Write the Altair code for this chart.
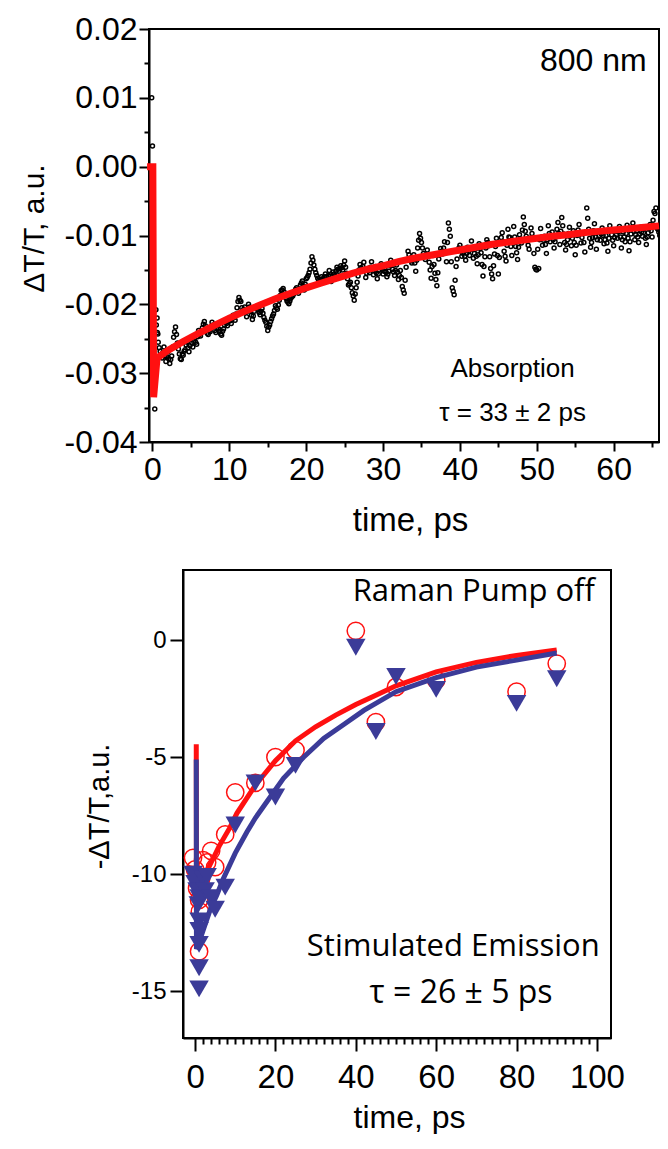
import altair as alt
import pandas as pd

RED = "#ff1010"
BLUE = "#3b3b98"
FONT = "Liberation Sans"
FONT2 = "Open Sans"
MINUS_FIX = "replace(datum.label, '\u2212', '-')"

# whole figure is one layered view; each panel has its own pixel-ranged scales
W, H = 652, 1126

# ---------------- top panel: 800 nm absorption ----------------
# transient points (units of 1e-3), two interleaved sample sets
abs_vals_a = [  # t = 0.5, 0.75, 1.0, ...
    -23.0, -25.5, -26.8, -27.8, -26.2, -28.3, -26.9, -28.6,
    -27.5, -24.8, -23.3, -25.6, -27.2, -28.0, -27.4, -26.6,
    -25.5, -26.9, -25.0, -26.2, -24.9, -25.8, -23.8, -24.6,
    -23.4, -22.5, -23.7, -24.4, -24.0, -22.6, -23.2, -24.1,
    -23.0, -23.9, -24.5, -23.6, -22.4, -23.1, -22.0, -22.8,
    -21.6, -22.3, -20.5, -19.0, -19.6, -21.2, -20.4, -21.8,
    -20.0, -20.9, -22.2, -21.0, -20.3, -20.8, -21.5, -20.6,
    -21.9, -22.6, -23.8, -23.0, -22.1, -21.4, -20.2, -20.7,
    -19.4, -18.0, -17.7, -18.6, -19.5, -19.9, -19.1, -18.8,
    -18.1, -17.6, -18.4, -17.2, -16.6, -17.9, -16.3, -15.8,
    -14.9, -13.1, -14.3, -15.4, -16.2, -16.9, -16.0, -16.5,
    -15.6, -16.4, -15.1, -16.7, -15.3, -15.9, -14.6, -15.2,
    -14.4, -15.0, -13.7, -15.5, -17.2, -16.8, -18.3, -19.4,
    -17.6, -15.9, -14.2, -15.1, -13.9, -16.1, -14.8, -15.4,
    -13.8, -15.7, -14.5, -16.3, -15.0, -14.1, -15.6, -14.7,
    -16.0, -15.2, -13.6, -14.9, -15.8, -14.3, -16.4, -15.1,
    -17.4, -18.4, -14.6, -12.3, -13.3, -14.0, -12.8, -15.2,
    -11.8, -9.7, -11.0, -12.6, -13.5, -12.1, -13.9, -16.2,
    -12.9, -15.5, -17.3, -13.4, -11.9, -12.7, -10.9, -13.8,
    -8.2, -10.1, -17.6, -18.6, -14.5, -12.2, -11.4, -13.0,
    -12.4, -13.6, -11.7, -12.9, -10.8, -13.3, -12.0, -14.1,
    -11.2, -12.5, -15.9, -13.1, -10.6, -11.5, -14.8, -16.3,
    -12.7, -10.4, -15.6, -11.0, -9.6, -12.3, -13.7, -9.1,
    -10.3, -12.9, -8.7, -11.6, -13.5, -9.9, -11.1, -7.3,
    -9.4, -10.8, -12.0, -8.9, -10.5, -14.6, -15.0, -14.8,
    -9.0, -11.4, -10.1, -12.6, -8.6, -10.9, -9.5, -11.8,
    -10.2, -8.1, -11.3, -7.4, -9.8, -12.1, -10.6, -8.8,
    -11.5, -9.3, -12.8, -10.0, -8.4, -11.1, -9.6, -12.4,
    -6.0, -9.1, -11.7, -10.3, -8.3, -12.0, -9.4, -10.7,
    -8.9, -11.2, -10.0, -12.3, -8.6, -9.9, -11.5, -9.2,
    -10.4, -8.7, -11.8, -9.5, -10.9, -8.5, -12.2, -9.8,
    -8.2, -10.6, -9.3, -11.0, -8.8, -10.1, -9.0, -11.3,
    -9.6, -8.4, -10.2, -6.5, -6.0, -9.1, -10.0,
]
abs_vals_b = [  # t = 0.625, 0.875, 1.125, ...
    -24.1, -26.3, -27.4, -27.0, -27.5, -27.6, -27.9, -28.0,
    -26.2, -24.0, -24.4, -26.5, -27.9, -27.2, -26.8, -25.9,
    -26.3, -26.0, -25.6, -25.4, -25.5, -24.7, -24.4, -23.9,
    -22.9, -23.1, -24.2, -23.8, -23.3, -23.0, -23.8, -23.5,
    -23.6, -24.3, -23.9, -23.0, -22.8, -22.5, -22.4, -22.1,
    -21.9, -21.4, -19.6, -19.4, -20.5, -20.7, -21.1, -21.0,
    -20.4, -21.6, -21.7, -20.6, -20.5, -21.2, -21.0, -21.3,
    -22.3, -23.2, -23.3, -22.5, -21.7, -20.9, -20.5, -20.1,
    -18.7, -17.9, -18.2, -19.1, -19.7, -19.5, -18.9, -18.5,
    -17.8, -18.0, -17.8, -16.9, -17.3, -17.1, -16.1, -15.4,
    -14.0, -13.6, -14.9, -15.8, -16.5, -16.4, -16.3, -16.0,
    -16.0, -15.8, -15.9, -16.0, -15.6, -15.2, -14.9, -14.8,
    -14.7, -14.3, -14.6, -16.3, -17.0, -17.6, -18.8, -18.5,
    -16.8, -15.0, -14.7, -14.5, -15.0, -15.5, -15.1, -14.6,
    -14.8, -15.1, -15.4, -15.6, -14.5, -14.9, -15.2, -15.3,
    -15.6, -14.4, -14.2, -15.3, -15.1, -15.3, -15.8, -16.1,
    -17.9, -16.5, -13.5, -12.8, -13.7, -13.4, -14.0, -13.6,
    -10.7, -10.4, -11.8, -13.1, -12.8, -13.0, -15.0, -14.5,
    -14.2, -16.4, -15.4, -12.6, -12.3, -11.8, -12.4, -11.0,
    -9.1, -13.8, -18.1, -16.5, -13.4, -11.8, -12.2, -12.6,
    -13.0, -12.6, -12.3, -11.9, -12.0, -12.6, -13.0, -12.8,
    -11.9, -14.2, -14.5, -11.8, -11.0, -13.1, -15.6, -14.4,
    -11.6, -12.9, -13.2, -10.3, -10.9, -13.0, -11.4, -10.2,
    -11.6, -10.8, -10.2, -12.5, -11.7, -10.5, -9.2, -8.4,
    -10.1, -11.4, -10.4, -9.7, -12.6, -14.9, -12.0, -10.6,
    -10.2, -10.7, -11.3, -10.6, -9.7, -10.2, -10.6, -10.9,
    -9.1, -9.7, -9.4, -8.6, -11.0, -11.3, -9.7, -10.0,
    -10.4, -11.0, -11.4, -9.2, -9.7, -10.3, -11.0, -9.5,
    -7.5, -10.4, -11.0, -9.3, -10.2, -10.6, -10.0, -9.8,
    -10.0, -10.6, -11.1, -10.4, -9.2, -10.7, -10.3, -9.9,
    -9.5, -10.2, -10.6, -10.2, -9.7, -10.4, -10.9, -9.0,
    -9.4, -9.9, -10.2, -9.8, -9.5, -9.6, -10.4, -10.2,
    -9.0, -9.3, -7.8, -6.8, -8.9, -9.5,
]
abs_t_a = [round(0.5 + 0.25 * i, 3) for i in range(len(abs_vals_a))]
abs_t_b = [round(0.625 + 0.25 * i, 3) for i in range(len(abs_vals_b))]
early_t = [-0.1, 0.0, 0.3, 0.45, 0.6, 0.7]
early_v = [10.0, 3.0, -35.2, -20.8, -22.0, -24.3]

fit_top_t = [-0.7, 0.05, 0.15, 0.6, 2, 4, 6, 8, 10, 12, 14, 16, 18, 20, 22, 24, 26,
             28, 30, 32, 34, 36, 38, 40, 42, 44, 46, 48, 50, 52, 54, 56, 58, 60,
             62, 64, 65.9]
fit_top_v = [0.0, 0.0, -33.5, -27.8, -26.7, -25.4, -24.2, -23.1, -22.0, -21.0, -20.1,
             -19.2, -18.4, -17.6, -16.9, -16.2, -15.5, -14.9, -14.4, -13.8, -13.3,
             -12.9, -12.5, -12.1, -11.7, -11.3, -11.0, -10.7, -10.4, -10.1, -9.9,
             -9.6, -9.4, -9.2, -9.0, -8.8, -8.6]

top_x_ticks = [0, 10, 20, 30, 40, 50, 60]
top_x_minor = [5, 15, 25, 35, 45, 55, 65]
top_y_ticks = [0.02, 0.01, 0.0, -0.01, -0.02, -0.03, -0.04]
top_y_minor = [0.015, 0.005, -0.005, -0.015, -0.025, -0.035]
top_x_dom = [-0.45, 65.9]
top_y_dom = [-0.04, 0.02]

# ---------------- bottom panel: stimulated emission ----------------
off_t = [-0.5, 0, 0.5, 1.0, 1.2, 1.0, 1.5, 2, 3, 4, 5, 7.5, 10, 15, 20, 25, 40, 45, 50, 60, 80, 90]
off_v = [-9.3, -9.8, -10.6, -11.1, -11.6, -13.3, -10.2, -9.4, -9.5, -9.0, -9.7, -8.3,
         -6.5, -6.1, -5.0, -4.7, 0.4, -3.5, -2.0, -1.7, -2.2, -1.0]
on_t = [-0.5, 0, 0.5, 0.8, 1, 1, 1, 1, 1, 1, 2, 2.5, 3, 4, 5, 7.5, 10, 15, 20, 25,
        40, 45, 50, 60, 80, 90]
on_v = [-10.0, -10.4, -10.7, -11.3, -12.0, -12.4, -13.0, -14.0, -14.9, -11.0, -10.2,
        -10.7, -10.1, -11.0, -11.5, -10.55, -7.9, -6.1, -6.7, -5.35, -0.3, -3.9,
        -1.55, -2.1, -2.7, -1.65]
fit_red_t = [0.3, 0.35, 2, 4, 6, 8.7, 10.4, 15, 20, 25, 30, 35, 40, 45, 50, 60, 70, 80, 90]
fit_red_v = [-4.45, -10.8, -10.2, -9.5, -8.8, -8.0, -7.4, -6.2, -5.15, -4.3, -3.7, -3.2,
             -2.75, -2.35, -1.95, -1.35, -0.95, -0.65, -0.42]
fit_blue_t = [0.3, 0.35, 1, 2, 3, 4, 5.4, 7, 10, 12.9, 15, 18.7, 22, 27, 32, 37, 42, 50,
              60, 70, 80, 90]
fit_blue_v = [-5.1, -13.2, -12.9, -12.4, -11.9, -11.4, -10.9, -10.2, -9.1, -8.2, -7.6,
              -6.7, -5.9, -5.0, -4.2, -3.6, -3.0, -2.2, -1.6, -1.15, -0.85, -0.55]

bot_x_ticks = [0, 20, 40, 60, 80, 100]
bot_x_minor = [2, 4, 6, 8, 10, 12, 14, 16, 18, 22, 24, 26, 28, 30, 32, 34, 36, 38,
               42, 44, 46, 48, 50, 52, 54, 56, 58, 62, 64, 66, 68, 70, 72, 74, 76, 78,
               82, 84, 86, 88, 90, 92, 94, 96, 98]
bot_y_ticks = [0, -5, -10, -15]
bot_x_dom = [-3, 103.5]
bot_y_dom = [-17, 3]

# ---------------- scales (pixel ranges inside the single view) ----------------
xs_top = alt.Scale(domain=top_x_dom, range=[141, 651], nice=False, zero=False)
ys_top = alt.Scale(domain=top_y_dom, range=[434, 21], nice=False, zero=False)
xs_bot = alt.Scale(domain=bot_x_dom, range=[175, 603], nice=False, zero=False)
ys_bot = alt.Scale(domain=bot_y_dom, range=[1030, 562], nice=False, zero=False)


def major_axis(orient, offset, values, tick, lsize, lpad, title, tsize, tpad, **kw):
    return alt.Axis(orient=orient, offset=offset, values=values, tickSize=tick,
                    tickWidth=2, tickColor="black", domainColor="black", domainWidth=2,
                    labelFont=FONT, labelFontSize=lsize, labelColor="black",
                    labelPadding=lpad, labelExpr=MINUS_FIX, grid=False,
                    title=title, titleFont=FONT, titleFontSize=tsize,
                    titleFontWeight="normal", titleColor="black",
                    titlePadding=tpad, **kw)


def minor_axis(orient, offset, values, tick):
    return alt.Axis(orient=orient, offset=offset, values=values, tickSize=tick,
                    tickWidth=2, tickColor="black", labels=False, domain=False,
                    grid=False, title=None)


def frame(xd, yd, xs, ys):
    df = pd.DataFrame({"x1": [xd[0]], "x2": [xd[1]], "y1": [yd[0]], "y2": [yd[1]]})
    return alt.Chart(df).mark_rect(fillOpacity=0, stroke="black", strokeWidth=2).encode(
        x=alt.X("x1:Q", scale=xs, axis=None), x2="x2:Q",
        y=alt.Y("y1:Q", scale=ys, axis=None), y2="y2:Q",
    )


def text_layer(t, v, s, xs, ys, size, align, font):
    df = pd.DataFrame({"t": [t], "v": [v], "s": [s]})
    return alt.Chart(df).mark_text(align=align, baseline="alphabetic", fontSize=size,
                                   font=font, color="black").encode(
        x=alt.X("t:Q", scale=xs, axis=None),
        y=alt.Y("v:Q", scale=ys, axis=None),
        text="s:N",
    )


# ---- top layers ----
top_pts = pd.DataFrame({"t": early_t + abs_t_a + abs_t_b,
                        "v": [x / 1000 for x in early_v + abs_vals_a + abs_vals_b]})
top_fit = pd.DataFrame({"t": fit_top_t, "v": [x / 1000 for x in fit_top_v]})

top_frame = frame(top_x_dom, top_y_dom, xs_top, ys_top)
top_points = alt.Chart(top_pts).mark_point(
    shape="circle", filled=False, size=16, strokeWidth=1.5, color="black", opacity=1
).encode(
    x=alt.X("t:Q", scale=xs_top,
            axis=major_axis("bottom", 434 - H, top_x_ticks, 9, 32, 3, "time, ps", 33, 19,
                            titleX=402)),
    y=alt.Y("v:Q", scale=ys_top,
            axis=major_axis("left", -141, top_y_ticks, 10, 32, 2, "ΔT/T, a.u.", 30, 15,
                            format=".2f", titleY=220)),
)
top_line = alt.Chart(top_fit).mark_line(color=RED, strokeWidth=7).encode(
    x=alt.X("t:Q", scale=xs_top, axis=minor_axis("bottom", 434 - H, top_x_minor, 5)),
    y=alt.Y("v:Q", scale=ys_top, axis=minor_axis("left", -141, top_y_minor, 5)),
)
t1 = text_layer(64.3, 0.01384, "800 nm", xs_top, ys_top, 32, "right", FONT)
t2 = text_layer(46.85, -0.0306, "Absorption", xs_top, ys_top, 26, "center", FONT)
t3 = text_layer(46.85, -0.03695, "τ = 33 ± 2 ps", xs_top, ys_top, 26, "center", FONT)

# ---- bottom layers ----
off_df = pd.DataFrame({"t": off_t, "v": off_v})
on_df = pd.DataFrame({"t": on_t, "v": on_v})
red_df = pd.DataFrame({"t": fit_red_t, "v": fit_red_v})
blue_df = pd.DataFrame({"t": fit_blue_t, "v": fit_blue_v})

bot_frame = frame(bot_x_dom, bot_y_dom, xs_bot, ys_bot)
circles = alt.Chart(off_df).mark_point(
    shape="circle", filled=False, size=300, strokeWidth=1.5, color=RED, opacity=1
).encode(
    x=alt.X("t:Q", scale=xs_bot,
            axis=major_axis("bottom", 1030 - H, bot_x_ticks, 13, 33, 10, "time, ps", 32, 8,
                            titleX=401)),
    y=alt.Y("v:Q", scale=ys_bot,
            axis=major_axis("left", -175, bot_y_ticks, 13, 24, 4, "-ΔT/T,a.u.", 29, 17,
                            titleY=798)),
)
red_line = alt.Chart(red_df).mark_line(color=RED, strokeWidth=5).encode(
    x=alt.X("t:Q", scale=xs_bot, axis=minor_axis("bottom", 1030 - H, bot_x_minor, 6)),
    y=alt.Y("v:Q", scale=ys_bot, axis=None),
)
blue_line = alt.Chart(blue_df).mark_line(color=BLUE, strokeWidth=5).encode(
    x=alt.X("t:Q", scale=xs_bot, axis=None),
    y=alt.Y("v:Q", scale=ys_bot, axis=None),
)
triangles = alt.Chart(on_df).mark_point(
    shape="triangle-down", filled=True, size=380, color=BLUE, opacity=1
).encode(
    x=alt.X("t:Q", scale=xs_bot, axis=None),
    y=alt.Y("v:Q", scale=ys_bot, axis=None),
)
b1 = text_layer(99.5, 1.68, "Raman Pump off", xs_bot, ys_bot, 31, "right", FONT2)
b2 = text_layer(100.7, -13.5, "Stimulated Emission", xs_bot, ys_bot, 31, "right", FONT2)
b3 = text_layer(66.2, -15.5, "τ = 26 ± 5 ps", xs_bot, ys_bot, 32, "center", FONT2)

chart = alt.layer(
    top_frame, top_points, top_line, t1, t2, t3,
    bot_frame, circles, red_line, blue_line, triangles, b1, b2, b3,
).resolve_scale(x="independent", y="independent").resolve_axis(
    x="independent", y="independent"
).properties(
    width=W, height=H, padding=0, autosize=alt.AutoSizeParams(type="none")
).configure_view(strokeOpacity=0)

chart.save("out.html", embed_options={"renderer": "svg", "actions": False})
